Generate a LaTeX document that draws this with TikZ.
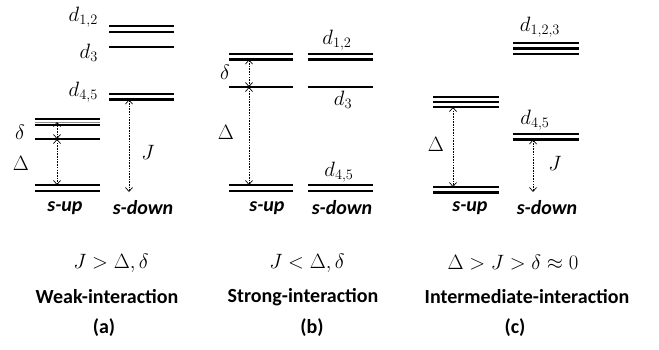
\documentclass[tikz,border=0pt]{standalone}
\usepackage{fontspec}
\setmainfont{Carlito}
\usetikzlibrary{arrows.meta}
\begin{document}
\begin{tikzpicture}[x=1pt,y=-1pt,
  lvl/.style={line width=2.1pt},
  lvlg/.style={line width=1pt,black!45},
  gap/.style={{Straight Barb[length=4pt,width=7pt]}-{Straight Barb[length=4pt,width=7pt]},line width=0.7pt,dash pattern=on 1.6pt off 1.1pt},
  lbl/.style={font=\fontsize{21}{25}\selectfont,inner sep=0pt},
  spin/.style={font=\fontsize{20}{24}\selectfont\bfseries\itshape,inner sep=0pt},
  ttl/.style={font=\fontsize{20}{24}\selectfont\bfseries,inner sep=0pt}]
\useasboundingbox (0,0) rectangle (659,349);
%%%%%%%%%%%%%%%% panel (a)
% s-down levels
\draw[lvl] (109,26) -- (174,26);
\draw[lvl] (109,32) -- (174,32);
\draw[lvl] (109,47) -- (174,47);
\draw[lvl] (109,94) -- (174,94);
\draw[lvl] (109,99.5) -- (174,99.5);
% s-up levels
\draw[lvl] (35,119) -- (100,119);
\draw[lvlg] (35,122) -- (100,122);
\draw[lvl] (35,125) -- (100,125);
\draw[lvl] (35,139) -- (100,139);
\draw[lvl] (35,185) -- (100,185);
\draw[lvl] (35,191) -- (100,191);
\coordinate (aT) at (57,122);
\coordinate (aM) at (57,139);
\coordinate (aB) at (57,185);
\coordinate (aJt) at (129,99.5);
\coordinate (aJb) at (129,192);
\draw[gap] (aT) -- (aM);
\draw[gap] (aM) -- (aB);
\draw[gap] (aJt) -- (aJb);
\node[lbl,anchor=east] (ad12) at (98,17) {$d_{1,2}$};
\node[lbl,anchor=east] (ad3) at (98,53) {$d_{3}$};
\node[lbl,anchor=east] (ad45) at (98,92) {$d_{4,5}$};
\node[lbl] (adelta) at (20,132) {$\delta$};
\node[lbl] (aDelta) at (21,163) {$\Delta$};
\node[lbl] (aJ) at (148,152) {$J$};
\node[spin] (aup) at (65,208) {s-up};
\node[spin] (adown) at (143,208) {s-down};
\node[lbl,font=\fontsize{20}{24}\selectfont] (aeq) at (111,263) {$J>\Delta,\delta$};
\node[ttl] (attl) at (107,297) {Weak-interaction};
\node[ttl] (alab) at (104,328) {(a)};
%%%%%%%%%%%%%%%% panel (b)
\foreach \xa/\xb in {229/293,308/373}{
  \draw[lvl] (\xa,54) -- (\xb,54);
  \draw[lvl] (\xa,59.5) -- (\xb,59.5);
  \draw[lvl] (\xa,87) -- (\xb,87);
  \draw[lvl] (\xa,185) -- (\xb,185);
  \draw[lvl] (\xa,191) -- (\xb,191);
}
\coordinate (bT) at (249,59.5);
\coordinate (bM) at (249,87);
\coordinate (bB) at (249,185);
\draw[gap] (bT) -- (bM);
\draw[gap] (bM) -- (bB);
\node[lbl] (bd12) at (337,40) {$d_{1,2}$};
\node[lbl] (bd3) at (343,100) {$d_{3}$};
\node[lbl] (bd45) at (339,172) {$d_{4,5}$};
\node[lbl] (bdelta) at (225,72) {$\delta$};
\node[lbl] (bDelta) at (226,132) {$\Delta$};
\node[spin] (bup) at (267,208) {s-up};
\node[spin] (bdown) at (342,208) {s-down};
\node[lbl,font=\fontsize{20}{24}\selectfont] (beq) at (307,263) {$J<\Delta,\delta$};
\node[ttl] (bttl) at (303,297) {Strong-interaction};
\node[ttl] (blab) at (312,328) {(b)};
%%%%%%%%%%%%%%%% panel (c)
\draw[lvl] (513,43) -- (579,43);
\draw[lvl] (513,48.5) -- (579,48.5);
\draw[lvl] (513,54) -- (579,54);
\draw[lvl] (513,134) -- (579,134);
\draw[lvl] (513,139.5) -- (579,139.5);
\draw[lvl] (433,97) -- (499,97);
\draw[lvl] (433,102) -- (499,102);
\draw[lvl] (433,107) -- (499,107);
\draw[lvl] (433,187) -- (499,187);
\draw[lvl] (433,192.5) -- (499,192.5);
\coordinate (cT) at (453,107);
\coordinate (cB) at (453,187);
\coordinate (cJt) at (533,139.5);
\coordinate (cJb) at (533,192);
\draw[gap] (cT) -- (cB);
\draw[gap] (cJt) -- (cJb);
\node[lbl] (cd123) at (540,27) {$d_{1,2,3}$};
\node[lbl] (cd45) at (535,120) {$d_{4,5}$};
\node[lbl] (cDelta) at (436,144) {$\Delta$};
\node[lbl] (cJ) at (555,163) {$J$};
\node[spin] (cup) at (470,208) {s-up};
\node[spin] (cdown) at (547,208) {s-down};
\node[lbl,font=\fontsize{20}{24}\selectfont] (ceq) at (513,263) {$\Delta>J>\delta\approx 0$};
\node[ttl] (cttl) at (527,297) {Intermediate-interaction};
\node[ttl] (clab) at (515,328) {(c)};
\end{tikzpicture}
\end{document}
